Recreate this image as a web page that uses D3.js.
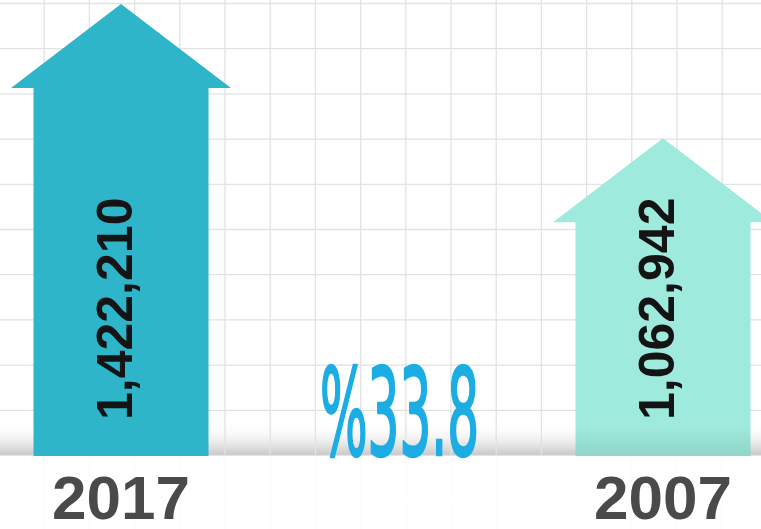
<!DOCTYPE html>
<html lang="en">
<head>
    <meta charset="UTF-8">
    <title>2017 vs 2007</title>
    <script src="https://cdnjs.cloudflare.com/ajax/libs/d3/7.8.5/d3.min.js"></script>
    <style>
        * { margin: 0; padding: 0; box-sizing: border-box; }
        body { background: #fff; overflow: hidden; }
        svg { display: block; }
    </style>
</head>
<body>
    <div id="chart"></div>

    <script>
        // data
        const years = ["2017", "2007"];
        const values = [1422210, 1062942];
        const valueLabels = ["1,422,210", "1,062,942"];
        const arrowColors = ["#2fb5ca", "#9eeadc"];
        const changeLabel = "%33.8";

        const width = 761;
        const height = 529;
        const baseY = 456;

        const svg = d3.select("#chart")
            .append("svg")
            .attr("width", width)
            .attr("height", height);

        const defs = svg.append("defs");

        const shade = defs.append("linearGradient")
            .attr("id", "shade")
            .attr("x1", 0).attr("y1", 0).attr("x2", 0).attr("y2", 1);
        shade.append("stop").attr("offset", "0%").attr("stop-color", "#fff").attr("stop-opacity", 0);
        shade.append("stop").attr("offset", "100%").attr("stop-color", "#c4c4c4").attr("stop-opacity", 1);

        const dark = defs.append("linearGradient")
            .attr("id", "dark")
            .attr("x1", 0).attr("y1", 0).attr("x2", 0).attr("y2", 1);
        dark.append("stop").attr("offset", "0%").attr("stop-color", "#000").attr("stop-opacity", 0);
        dark.append("stop").attr("offset", "100%").attr("stop-color", "#000").attr("stop-opacity", 0.09);

        // scales
        const x = d3.scalePoint().domain(years).range([121, 663]);
        const y = d3.scaleLinear().domain([212000, 1422210]).range([baseY, 4]);

        // grey shadow along the baseline
        svg.append("rect")
            .attr("x", 0).attr("y", baseY - 34)
            .attr("width", width).attr("height", 34)
            .attr("fill", "url(#shade)");

        // background grid
        const step = 45.2;
        const grid = svg.append("g")
            .attr("stroke", "#e2e2e2")
            .attr("stroke-width", 1.3);
        d3.range(-1, width, step).forEach(gx => {
            grid.append("line").attr("x1", gx).attr("x2", gx).attr("y1", 0).attr("y2", height);
        });
        d3.range(3.5, height, step).forEach(gy => {
            grid.append("line").attr("x1", 0).attr("x2", width).attr("y1", gy).attr("y2", gy);
        });

        // fade the grid below the baseline
        svg.append("rect")
            .attr("x", 0).attr("y", baseY)
            .attr("width", width).attr("height", height - baseY)
            .attr("fill", "#fff")
            .attr("opacity", 0.88);

        const headH = 84;
        const headHalf = 110;
        const bodyHalf = 87.5;

        function arrowPath(cx, top) {
            const p = d3.path();
            p.moveTo(cx, top);
            p.lineTo(cx + headHalf, top + headH);
            p.lineTo(cx + bodyHalf, top + headH);
            p.lineTo(cx + bodyHalf, baseY);
            p.lineTo(cx - bodyHalf, baseY);
            p.lineTo(cx - bodyHalf, top + headH);
            p.lineTo(cx - headHalf, top + headH);
            p.closePath();
            return p.toString();
        }

        const arrows = svg.append("g")
            .selectAll("g")
            .data(years)
            .join("g");

        arrows.append("path")
            .attr("d", (d, i) => arrowPath(x(d), y(values[i])))
            .attr("fill", (d, i) => arrowColors[i]);

        // slight darkening at the foot of the light arrow
        svg.append("rect")
            .attr("x", x(years[1]) - bodyHalf)
            .attr("y", baseY - 30)
            .attr("width", bodyHalf * 2)
            .attr("height", 30)
            .attr("fill", "url(#dark)");

        arrows.append("text")
            .attr("transform", d => `translate(${x(d) + 11},420) rotate(-90)`)
            .attr("font-family", "'Liberation Sans', Arial, sans-serif")
            .attr("font-weight", "bold")
            .attr("font-size", 50)
            .attr("fill", "#141414")
            .text((d, i) => valueLabels[i]);

        // year labels
        svg.append("g")
            .selectAll("text")
            .data(years)
            .join("text")
            .attr("x", d => x(d))
            .attr("y", 519)
            .attr("text-anchor", "middle")
            .attr("font-family", "'Liberation Sans', Arial, sans-serif")
            .attr("font-weight", "bold")
            .attr("font-size", 62)
            .attr("fill", "#4a4a4a")
            .text(d => d);

        // percentage change
        svg.append("text")
            .attr("x", 320)
            .attr("y", baseY - 1)
            .attr("textLength", 159)
            .attr("lengthAdjust", "spacingAndGlyphs")
            .attr("font-family", "'DejaVu Sans Condensed', 'DejaVu Sans', sans-serif")
            .attr("font-size", 121)
            .attr("fill", "#1badE3")
            .attr("stroke", "#1badE3")
            .attr("stroke-width", 2.6)
            .attr("stroke-linejoin", "round")
            .text(changeLabel);
    </script>
</body>
</html>
